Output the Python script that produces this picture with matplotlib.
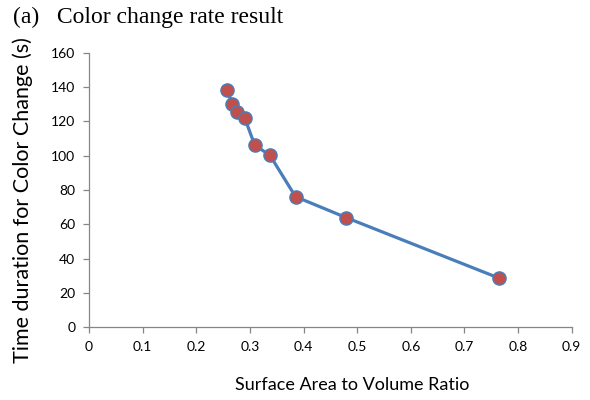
import matplotlib.pyplot as plt

# 표면적/부피 비율과 색 변화 시간
ratio = [0.257, 0.267, 0.275, 0.290, 0.309, 0.337, 0.385, 0.480, 0.764]
time_s = [138.4, 130.4, 125.4, 122.2, 106.1, 100.4, 76.1, 63.8, 28.6]
xticks = [0, 0.1, 0.2, 0.3, 0.4, 0.5, 0.6, 0.7, 0.8, 0.9]
yticks = [0, 20, 40, 60, 80, 100, 120, 140, 160]

fig = plt.figure(figsize=(5.9, 4), dpi=100)
ax = fig.add_axes([0.151, 0.1825, 0.818, 0.685])

ax.plot(ratio, time_s, color='#4a7ebb', lw=2.3, zorder=2)
ax.plot(ratio, time_s, 'o', ms=9.5, mfc='#c0504d', mec='#4a7ebb', mew=1.0, zorder=3)

ax.set_xlim(0, 0.9)
ax.set_ylim(0, 160)
ax.set_xticks(xticks)
ax.set_xticklabels(['0' if v == 0 else f'{v:g}' for v in xticks], fontfamily='Lato', fontsize=10)
ax.set_yticks(yticks)
ax.set_yticklabels([str(v) for v in yticks], fontfamily='Lato', fontsize=10)

for s in ['top', 'right']:
    ax.spines[s].set_visible(False)
for s in ['left', 'bottom']:
    ax.spines[s].set_color('#868686')
    ax.spines[s].set_linewidth(0.9)
ax.tick_params(colors='#868686', length=4, width=0.9, labelcolor='black', pad=6)

fig.text(352 / 590, 1 - 385 / 400, 'Surface Area to Volume Ratio',
         ha='center', va='center', fontfamily='Lato', fontsize=13)
fig.text(23 / 590, 1 - 200 / 400, 'Time duration for Color Change (s)', rotation=90,
         ha='center', va='center', fontfamily='Lato', fontsize=15.5)
fig.text(13 / 590, 1 - 17 / 400, '(a)   Color change rate result', ha='left', va='center',
         fontfamily='Liberation Serif', fontsize=17)

fig.savefig('out.png', dpi=100)
